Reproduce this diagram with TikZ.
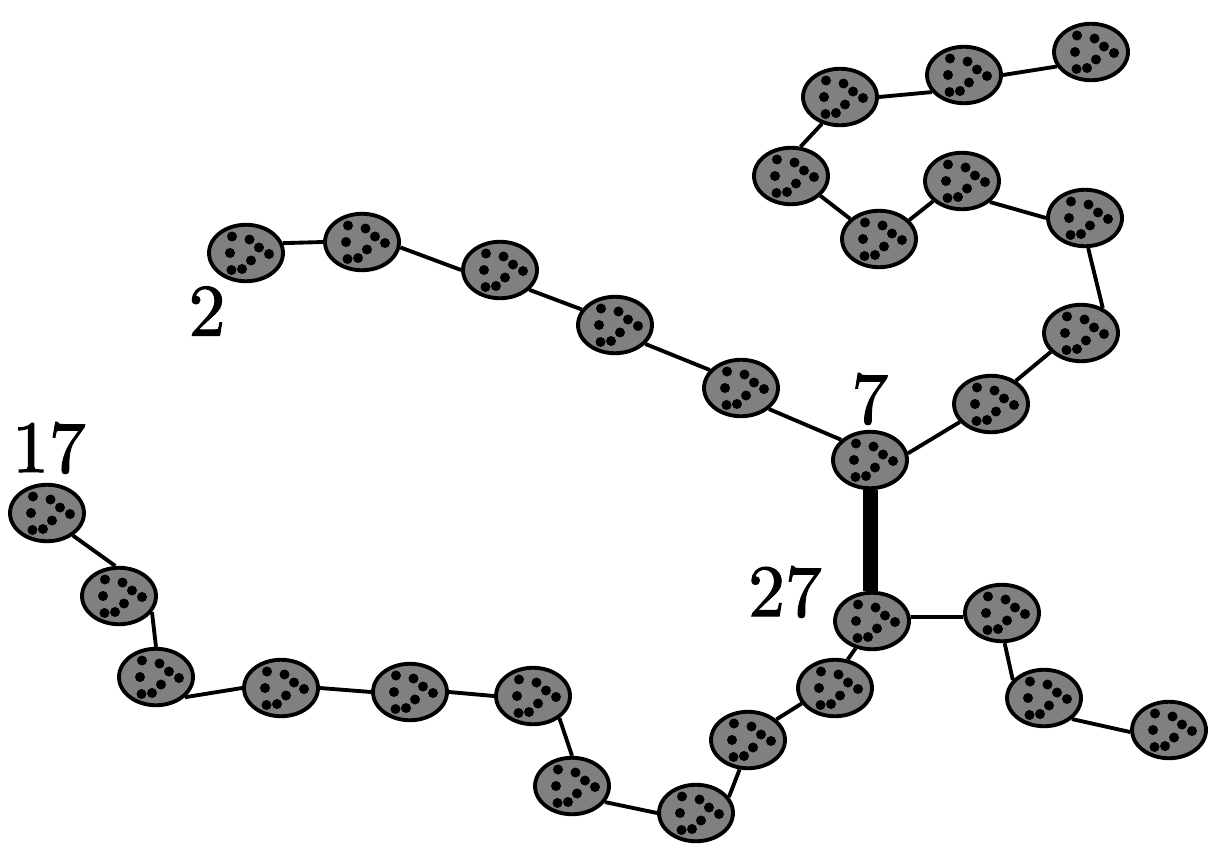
\documentclass[tikz,border=0pt]{standalone}
\usepackage{fontspec}
\usepackage{tikz}
\usetikzlibrary{shapes.geometric}
\newfontfamily\tagfont{lmroman10-regular.otf}[FakeBold=1.4]

\begin{document}
\begin{tikzpicture}[
  x=0.02cm, y=-0.02cm,
  cell/.style={ellipse, draw, line width=2.2pt, fill=gray, minimum width=1.48cm, minimum height=1.13cm,
    path picture={
      \foreach \dx/\dy in {-14/-16.5, 3.5/-13.5, 13/-5.5, 23/1, -16/0, 5/7.5, -4/16, -14.5/17}
        \fill[black] (path picture bounding box.center) ++(\dx,\dy) circle (0.1cm);
    }},
  link/.style={draw, line width=2.2pt},
  tag/.style={font=\tagfont\fontsize{42}{44}\selectfont, inner sep=0pt}
]
\useasboundingbox (0,0) rectangle (1226,862);

% upper chain
\node[cell] (n1) at (246,253) {};
\node[cell] (n2) at (362,242) {};
\node[cell] (n3) at (500,270) {};
\node[cell] (n4) at (615,325) {};
\node[cell] (n5) at (741,388) {};
\node[cell] (n6) at (870,460) {};
\node[cell] (n7) at (991,404) {};
\node[cell] (n8) at (1081,333) {};
\node[cell] (n9) at (1085,218) {};
\node[cell] (n10) at (962,181) {};
\node[cell] (n11) at (879,239) {};
\node[cell] (n12) at (791,176) {};
\node[cell] (n13) at (840,97) {};
\node[cell] (n14) at (964,75) {};
\node[cell] (n15) at (1091,52) {};
% lower part
\node[cell] (n16) at (872,621) {};
\node[cell] (n17) at (1002,613) {};
\node[cell] (n18) at (1044,698) {};
\node[cell] (n19) at (1169,730) {};
\node[cell] (n20) at (835,688) {};
\node[cell] (n21) at (748,740) {};
\node[cell] (n22) at (696,813) {};
\node[cell] (n23) at (572,786) {};
\node[cell] (n24) at (533,696) {};
\node[cell] (n25) at (410,692) {};
\node[cell] (n26) at (281,688) {};
\node[cell] (n27) at (156,677) {};
\node[cell] (n28) at (119,596) {};
\node[cell] (n29) at (47,513) {};

\node[tag] (t2) at (207,311) {2};
\node[tag] (t7) at (870,399) {7};
\node[tag] (t27) at (785,592) {27};
\node[tag] (t17) at (49,448) {17};

\foreach \a/\b in {n1.15/n2.180, n2.-8/n3.180, n3.-34/n4.155, n4.-32/n5.150, n5.-37/n6.145,
    n6.10/n7.210, n7.43/n8.-148, n8.49/n9.-84, n9.180/n10.-37, n10.215/n11.32, n11.145/n12.-34,
    n12.72/n13.236, n13.0/n14.-152, n14.0/n15.203,
    n16.6/n17.186, n17.-85/n18.150, n18.-37/n19.183,
    n16.-121/n20.66, n20.205/n21.36, n21.-106/n22.26, n22.180/n23.-26, n23.90/n24.-40,
    n24.180/n25.0, n25.180/n26.0, n26.180/n27.-35, n27.90/n28.-26, n28.97/n29.-41}
  \draw[link] (\a) -- (\b);
\draw[line width=0.3cm] (n6.south) -- (n6.south |- n16.north);
\end{tikzpicture}
\end{document}
